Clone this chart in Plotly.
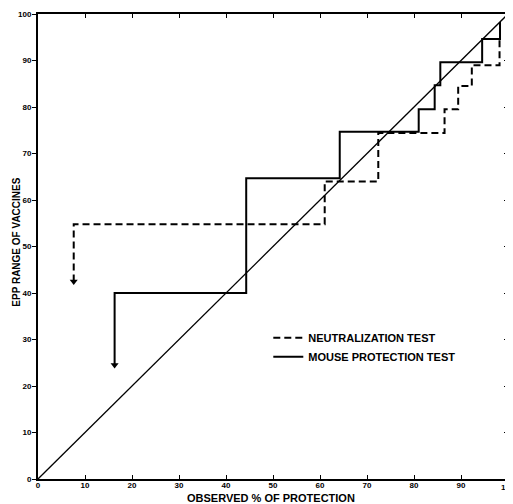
import plotly.graph_objects as go

# Neutralization test (dashed) staircase
neut_x = [7.6, 7.6, 61.0, 61.0, 72.4, 72.4, 86.5, 86.5, 89.4, 89.4, 92.3, 92.3, 98.2, 98.2]
neut_y = [42.5, 54.8, 54.8, 64.0, 64.0, 74.4, 74.4, 79.5, 79.5, 84.5, 84.5, 89.0, 89.0, 94.6]

# Mouse protection test (solid) staircase
mouse_x = [16.3, 16.3, 44.3, 44.3, 64.2, 64.2, 81.0, 81.0, 84.4, 84.4, 85.6, 85.6, 94.5, 94.5, 98.3, 98.3]
mouse_y = [24.5, 40.0, 40.0, 64.7, 64.7, 74.7, 74.7, 79.5, 79.5, 84.7, 84.7, 89.6, 89.6, 94.6, 94.6, 98.3]

# line of identity
diag_x = [0, 100]
diag_y = [0, 100]

tick_vals = [0, 10, 20, 30, 40, 50, 60, 70, 80, 90, 100]
tick_text = ["0", "10", "20", "30", "40", "50", "60", "70", "80", "90", "100"]

x_title = "OBSERVED % OF PROTECTION"
y_title = "EPP RANGE OF VACCINES"

FONT = "Liberation Sans"

fig = go.Figure()
fig.add_trace(go.Scatter(x=diag_x, y=diag_y, mode="lines",
                         line=dict(color="black", width=1.3), showlegend=False, hoverinfo="skip"))
fig.add_trace(go.Scatter(x=neut_x, y=neut_y, mode="lines", name="NEUTRALIZATION TEST",
                         line=dict(color="black", width=2, dash="7px,4px")))
fig.add_trace(go.Scatter(x=mouse_x, y=mouse_y, mode="lines", name="MOUSE PROTECTION TEST",
                         line=dict(color="black", width=2)))
# arrow heads at the starting point of each series
fig.add_trace(go.Scatter(x=[neut_x[0], mouse_x[0]], y=[neut_y[0], mouse_y[0]], mode="markers",
                         marker=dict(symbol="triangle-down", size=7, color="black"),
                         showlegend=False, hoverinfo="skip"))
# dummy trace to activate right axis ticks
fig.add_trace(go.Scatter(x=[None], y=[None], yaxis="y2", showlegend=False, hoverinfo="skip"))

# the page body has an 8px margin, so the figure is sized/offset to compensate
fig.update_layout(
    width=505, height=496,
    margin=dict(l=30, r=5, t=6, b=25, autoexpand=False),
    paper_bgcolor="white", plot_bgcolor="white",
    font=dict(family=FONT, color="black", size=9, weight="bold"),
    showlegend=True,
    legend=dict(x=0.49, y=0.335, xanchor="left", yanchor="top",
                bgcolor="rgba(0,0,0,0)", font=dict(size=11, family=FONT, weight="bold"),
                itemwidth=30, tracegroupgap=0),
    xaxis=dict(range=[0, 100], tickvals=tick_vals, ticktext=tick_text,
               ticks="inside", ticklen=4, tickwidth=1.2, tickcolor="black",
               showline=True, linecolor="black", linewidth=2, mirror="ticks",
               showgrid=False, zeroline=False, automargin=False,
               ticklabelstandoff=-3,
               tickfont=dict(size=8, family=FONT, weight="bold")),
    yaxis=dict(range=[0, 100], tickvals=tick_vals, ticktext=tick_text,
               ticks="outside", ticklen=4, tickwidth=1.2, tickcolor="black",
               showline=True, linecolor="black", linewidth=2, mirror=True,
               showgrid=False, zeroline=False, automargin=False,
               ticklabelstandoff=-1,
               tickfont=dict(size=8, family=FONT, weight="bold")),
    yaxis2=dict(range=[0, 100], tickvals=tick_vals, overlaying="y", side="right",
                ticks="inside", ticklen=4, tickwidth=1.2, tickcolor="black",
                showticklabels=False, showgrid=False, zeroline=False, showline=False,
                automargin=False),
    annotations=[
        dict(text=x_title, xref="paper", yref="paper", x=0.495, y=-0.041,
             xanchor="center", yanchor="middle", showarrow=False,
             font=dict(size=11, family=FONT, weight="bold")),
        dict(text=y_title, xref="paper", yref="paper", x=-0.045, y=0.51,
             xanchor="center", yanchor="middle", showarrow=False, textangle=-90,
             font=dict(size=10, family=FONT, weight="bold")),
        # last x tick label, which the page edge partly cuts off
        dict(text=tick_text[-1], xref="x", yref="paper", x=tick_vals[-1], y=-0.004,
             xanchor="center", yanchor="top", showarrow=False,
             font=dict(size=8, family=FONT, weight="bold")),
    ],
)

fig.write_html("out.html")
